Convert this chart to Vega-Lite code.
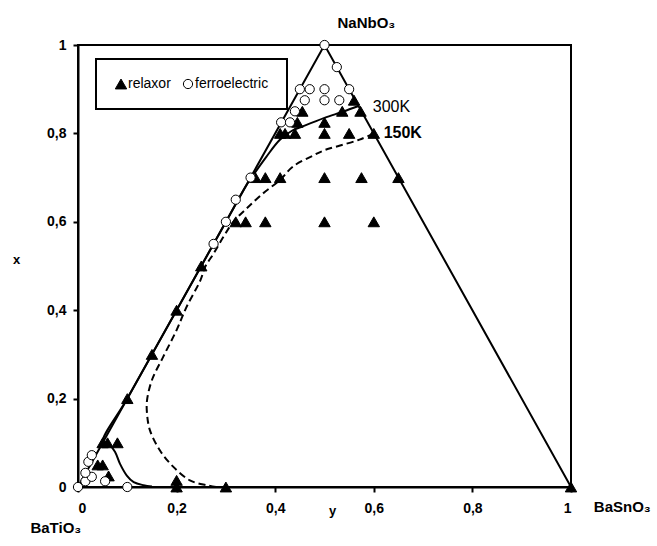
{
  "$schema": "https://vega.github.io/schema/vega-lite/v6.json",
  "width": 493,
  "height": 442,
  "autosize": {"type": "none"},
  "padding": {"left": 78, "top": 45, "right": 86, "bottom": 59},
  "background": "white",
  "config": {
    "view": {"stroke": "black", "strokeWidth": 2},
    "font": "Liberation Sans",
    "axis": {
      "domainColor": "black", "domainWidth": 2, "tickColor": "black", "tickWidth": 2, "tickSize": 5,
      "grid": false, "labelFont": "Liberation Sans", "labelFontSize": 14, "labelFontWeight": "bold",
      "labelColor": "black", "titleFont": "Liberation Sans", "titleFontSize": 13, "titleFontWeight": "bold", "titleColor": "black"
    },
    "legend": {"strokeWidth": 2}
  },
  "datasets": {
    "edge": [
      {"x": 0, "y": 0, "o": 1}, {"x": 0.5, "y": 1, "o": 2}, {"x": 1, "y": 0, "o": 3}
    ],
    "c300": [
      {"x": 0.569, "y": 0.862, "o": 1}, {"x": 0.537, "y": 0.849, "o": 2}, {"x": 0.5, "y": 0.835, "o": 3},
      {"x": 0.456, "y": 0.816, "o": 4}, {"x": 0.434, "y": 0.806, "o": 5}, {"x": 0.409, "y": 0.785, "o": 6},
      {"x": 0.382, "y": 0.747, "o": 7}, {"x": 0.355, "y": 0.705, "o": 8}, {"x": 0.34, "y": 0.68, "o": 9},
      {"x": 0.3, "y": 0.6, "o": 10}, {"x": 0.2, "y": 0.4, "o": 11}, {"x": 0.1, "y": 0.2, "o": 12},
      {"x": 0.05, "y": 0.1, "o": 13}, {"x": 0.065, "y": 0.094, "o": 14}, {"x": 0.075, "y": 0.08, "o": 15},
      {"x": 0.085, "y": 0.053, "o": 16}, {"x": 0.099, "y": 0.026, "o": 17}, {"x": 0.113, "y": 0.011, "o": 18},
      {"x": 0.133, "y": 0.004, "o": 19}, {"x": 0.15, "y": 0.001, "o": 20}
    ],
    "c150": [
      {"x": 0.6, "y": 0.8, "o": 1}, {"x": 0.571, "y": 0.786, "o": 2}, {"x": 0.53, "y": 0.772, "o": 3},
      {"x": 0.5, "y": 0.762, "o": 4}, {"x": 0.477, "y": 0.75, "o": 5}, {"x": 0.436, "y": 0.725, "o": 6},
      {"x": 0.409, "y": 0.694, "o": 7}, {"x": 0.375, "y": 0.664, "o": 8}, {"x": 0.342, "y": 0.63, "o": 9},
      {"x": 0.315, "y": 0.6, "o": 10}, {"x": 0.295, "y": 0.566, "o": 11}, {"x": 0.275, "y": 0.528, "o": 12},
      {"x": 0.258, "y": 0.498, "o": 13}, {"x": 0.248, "y": 0.467, "o": 14}, {"x": 0.22, "y": 0.407, "o": 15},
      {"x": 0.2, "y": 0.355, "o": 16}, {"x": 0.173, "y": 0.295, "o": 17}, {"x": 0.15, "y": 0.242, "o": 18},
      {"x": 0.14, "y": 0.196, "o": 19}, {"x": 0.14, "y": 0.166, "o": 20}, {"x": 0.146, "y": 0.128, "o": 21},
      {"x": 0.166, "y": 0.083, "o": 22}, {"x": 0.193, "y": 0.046, "o": 23}, {"x": 0.227, "y": 0.015, "o": 24},
      {"x": 0.261, "y": 0.004, "o": 25}, {"x": 0.28, "y": 0, "o": 26}
    ],
    "pts": [
      {"x": 0.56, "y": 0.875, "type": "relaxor"},
      {"x": 0.455, "y": 0.85, "type": "relaxor"}, {"x": 0.536, "y": 0.85, "type": "relaxor"}, {"x": 0.573, "y": 0.85, "type": "relaxor"},
      {"x": 0.445, "y": 0.825, "type": "relaxor"}, {"x": 0.5, "y": 0.825, "type": "relaxor"},
      {"x": 0.41, "y": 0.8, "type": "relaxor"}, {"x": 0.42, "y": 0.8, "type": "relaxor"}, {"x": 0.44, "y": 0.8, "type": "relaxor"},
      {"x": 0.5, "y": 0.8, "type": "relaxor"}, {"x": 0.55, "y": 0.8, "type": "relaxor"}, {"x": 0.6, "y": 0.8, "type": "relaxor"},
      {"x": 0.36, "y": 0.7, "type": "relaxor"}, {"x": 0.38, "y": 0.7, "type": "relaxor"}, {"x": 0.41, "y": 0.7, "type": "relaxor"},
      {"x": 0.5, "y": 0.7, "type": "relaxor"}, {"x": 0.575, "y": 0.7, "type": "relaxor"}, {"x": 0.65, "y": 0.7, "type": "relaxor"},
      {"x": 0.32, "y": 0.6, "type": "relaxor"}, {"x": 0.34, "y": 0.6, "type": "relaxor"}, {"x": 0.38, "y": 0.6, "type": "relaxor"},
      {"x": 0.5, "y": 0.6, "type": "relaxor"}, {"x": 0.6, "y": 0.6, "type": "relaxor"},
      {"x": 0.25, "y": 0.5, "type": "relaxor"}, {"x": 0.2, "y": 0.4, "type": "relaxor"}, {"x": 0.15, "y": 0.3, "type": "relaxor"},
      {"x": 0.1, "y": 0.2, "type": "relaxor"},
      {"x": 0.05, "y": 0.1, "type": "relaxor"}, {"x": 0.06, "y": 0.1, "type": "relaxor"}, {"x": 0.08, "y": 0.1, "type": "relaxor"},
      {"x": 0.04, "y": 0.05, "type": "relaxor"}, {"x": 0.05, "y": 0.05, "type": "relaxor"}, {"x": 0.062, "y": 0.025, "type": "relaxor"},
      {"x": 0.2, "y": 0.015, "type": "relaxor"}, {"x": 0.2, "y": 0, "type": "relaxor"}, {"x": 0.3, "y": 0, "type": "relaxor"},
      {"x": 1, "y": 0, "type": "relaxor"},
      {"x": 0, "y": 0, "type": "ferroelectric"}, {"x": 0.1, "y": 0, "type": "ferroelectric"},
      {"x": 0.015, "y": 0.013, "type": "ferroelectric"}, {"x": 0.055, "y": 0.013, "type": "ferroelectric"},
      {"x": 0.028, "y": 0.023, "type": "ferroelectric"}, {"x": 0.015, "y": 0.032, "type": "ferroelectric"},
      {"x": 0.021, "y": 0.057, "type": "ferroelectric"}, {"x": 0.028, "y": 0.072, "type": "ferroelectric"},
      {"x": 0.275, "y": 0.55, "type": "ferroelectric"}, {"x": 0.3, "y": 0.6, "type": "ferroelectric"},
      {"x": 0.32, "y": 0.65, "type": "ferroelectric"}, {"x": 0.35, "y": 0.7, "type": "ferroelectric"},
      {"x": 0.412, "y": 0.825, "type": "ferroelectric"}, {"x": 0.43, "y": 0.825, "type": "ferroelectric"},
      {"x": 0.44, "y": 0.85, "type": "ferroelectric"},
      {"x": 0.46, "y": 0.875, "type": "ferroelectric"}, {"x": 0.5, "y": 0.875, "type": "ferroelectric"}, {"x": 0.53, "y": 0.875, "type": "ferroelectric"},
      {"x": 0.45, "y": 0.9, "type": "ferroelectric"}, {"x": 0.47, "y": 0.9, "type": "ferroelectric"},
      {"x": 0.5, "y": 0.9, "type": "ferroelectric"}, {"x": 0.55, "y": 0.9, "type": "ferroelectric"},
      {"x": 0.525, "y": 0.95, "type": "ferroelectric"}, {"x": 0.5, "y": 1, "type": "ferroelectric"}
    ],
    "lbl300": [{"x": 0.598, "y": 0.86, "text": "300K"}],
    "lbl150": [{"x": 0.62, "y": 0.8, "text": "150K"}],
    "compounds": [
      {"x": 0.585, "y": 1.05, "text": "NaNbO₃"},
      {"x": -0.045, "y": -0.093, "text": "BaTiO₃"},
      {"x": 1.104, "y": -0.045, "text": "BaSnO₃"}
    ]
  },
  "encoding": {
    "x": {
      "field": "x", "type": "quantitative",
      "scale": {"domain": [0, 1], "nice": false, "zero": false},
      "axis": {
        "values": [0, 0.2, 0.4, 0.6, 0.8, 1],
        "labelExpr": "replace(format(datum.value, '~g'), '.', ',')",
        "labelPadding": 9,
        "title": "y", "titleX": 254, "titleY": 27, "titleBaseline": "alphabetic", "titleAlign": "center", "titleAngle": 0
      }
    },
    "y": {
      "field": "y", "type": "quantitative",
      "scale": {"domain": [0, 1], "nice": false, "zero": false},
      "axis": {
        "values": [0, 0.2, 0.4, 0.6, 0.8, 1],
        "labelExpr": "replace(format(datum.value, '~g'), '.', ',')",
        "labelPadding": 7,
        "title": "x", "titleX": -62, "titleY": 218, "titleBaseline": "alphabetic", "titleAlign": "center", "titleAngle": 0
      }
    }
  },
  "layer": [
    {
      "data": {"name": "edge"},
      "mark": {"type": "line", "color": "black", "strokeWidth": 2},
      "encoding": {"order": {"field": "o", "type": "quantitative"}}
    },
    {
      "data": {"name": "c300"},
      "mark": {"type": "line", "color": "black", "strokeWidth": 2, "interpolate": "catmull-rom"},
      "encoding": {"order": {"field": "o", "type": "quantitative"}}
    },
    {
      "data": {"name": "c150"},
      "mark": {"type": "line", "color": "black", "strokeWidth": 2, "strokeDash": [7, 4], "interpolate": "catmull-rom"},
      "encoding": {"order": {"field": "o", "type": "quantitative"}}
    },
    {
      "data": {"name": "pts"},
      "mark": {"type": "point", "filled": true, "strokeWidth": 1, "opacity": 1, "strokeOpacity": 1},
      "encoding": {
        "shape": {
          "field": "type", "type": "nominal",
          "scale": {"domain": ["relaxor", "ferroelectric"], "range": ["triangle-up", "circle"]},
          "legend": {"title": null, "orient": "none", "legendX": 18, "legendY": 14, "direction": "horizontal", "strokeColor": "black", "fillColor": "white", "padding": 18, "columnPadding": 10, "labelFontSize": 14, "labelFont": "Liberation Sans", "labelColor": "black", "labelOffset": 0, "symbolStrokeWidth": 1}
        },
        "fill": {
          "field": "type", "type": "nominal",
          "scale": {"domain": ["relaxor", "ferroelectric"], "range": ["black", "white"]},
          "legend": {"title": null, "orient": "none", "legendX": 18, "legendY": 14, "direction": "horizontal", "strokeColor": "black", "fillColor": "white", "padding": 18, "columnPadding": 10, "labelFontSize": 14, "labelFont": "Liberation Sans", "labelColor": "black", "labelOffset": 0, "symbolStrokeWidth": 1}
        },
        "stroke": {
          "field": "type", "type": "nominal",
          "scale": {"domain": ["relaxor", "ferroelectric"], "range": ["black", "black"]},
          "legend": {"title": null, "orient": "none", "legendX": 18, "legendY": 14, "direction": "horizontal", "strokeColor": "black", "fillColor": "white", "padding": 18, "columnPadding": 10, "labelFontSize": 14, "labelFont": "Liberation Sans", "labelColor": "black", "labelOffset": 0, "symbolStrokeWidth": 1}
        },
        "size": {
          "field": "type", "type": "nominal",
          "scale": {"domain": ["relaxor", "ferroelectric"], "range": [130, 85]},
          "legend": {"title": null, "orient": "none", "legendX": 18, "legendY": 14, "direction": "horizontal", "strokeColor": "black", "fillColor": "white", "padding": 18, "columnPadding": 10, "labelFontSize": 14, "labelFont": "Liberation Sans", "labelColor": "black", "labelOffset": 0, "symbolStrokeWidth": 1}
        }
      }
    },
    {
      "data": {"name": "lbl300"},
      "mark": {"type": "text", "align": "left", "baseline": "middle", "fontSize": 16, "font": "Liberation Sans", "color": "black"},
      "encoding": {"text": {"field": "text"}}
    },
    {
      "data": {"name": "lbl150"},
      "mark": {"type": "text", "align": "left", "baseline": "middle", "fontSize": 16, "fontWeight": "bold", "font": "Liberation Sans", "color": "black"},
      "encoding": {"text": {"field": "text"}}
    },
    {
      "data": {"name": "compounds"},
      "mark": {"type": "text", "align": "center", "baseline": "middle", "fontSize": 15, "fontWeight": "bold", "font": "Liberation Sans", "color": "black"},
      "encoding": {"text": {"field": "text"}}
    }
  ]
}
